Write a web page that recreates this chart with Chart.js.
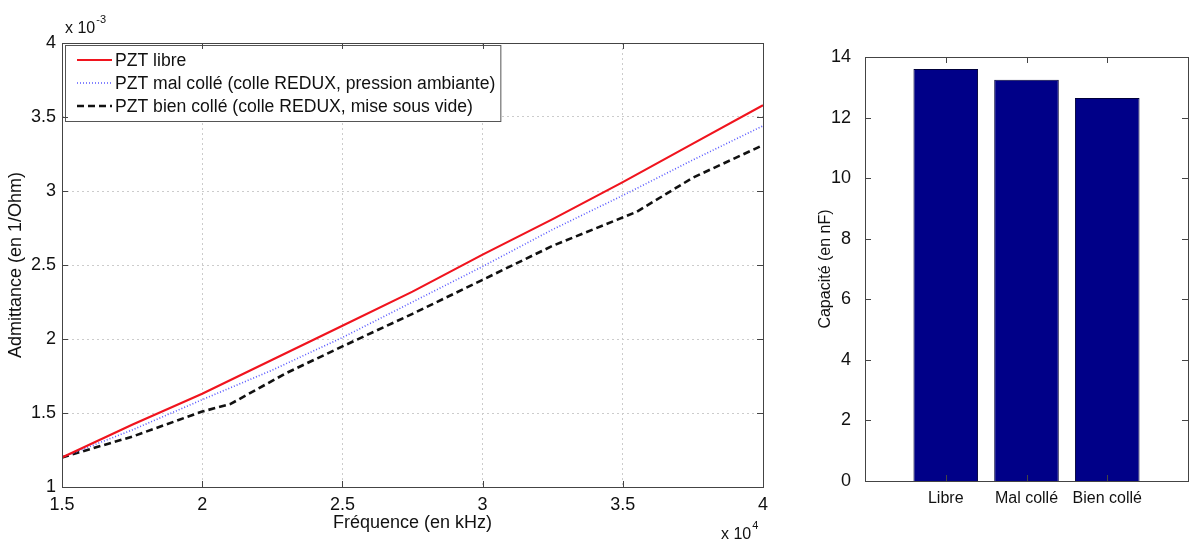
<!DOCTYPE html>
<html>
<head>
<meta charset="utf-8">
<script src="https://cdn.jsdelivr.net/npm/chart.js@4.4.0/dist/chart.umd.min.js"></script>
<style>
  html, body { margin: 0; padding: 0; background: #fff; }
  #left { position: absolute; left: 0; top: 0; }
  #right { position: absolute; left: 790px; top: 0; }
</style>
</head>
<body>
<canvas id="left" width="790" height="542"></canvas>
<canvas id="right" width="399" height="542"></canvas>
<script>
'use strict';

// admittance curves, values in 1e-3 (1/Ohm)
const freqs = [15000, 17500, 20000, 22500, 25000, 27500, 30000, 32500, 35000, 37500, 40000];
const libre = [1.20, 1.42, 1.63, 1.86, 2.09, 2.32, 2.57, 2.81, 3.06, 3.32, 3.58];
const malColle = [1.20, 1.385, 1.59, 1.79, 2.01, 2.25, 2.49, 2.74, 2.97, 3.21, 3.44];
const bienFreqs = [15000, 17500, 20000, 21000, 23000, 25000, 27500, 30000, 32500, 35500, 37500, 40000];
const bienColle = [1.20, 1.34, 1.51, 1.56, 1.77, 1.95, 2.17, 2.40, 2.63, 2.86, 3.09, 3.31];

const seriesLabels = [
  'PZT libre',
  'PZT mal collé (colle REDUX, pression ambiante)',
  'PZT bien collé (colle REDUX, mise sous vide)'
];

// capacitance bars
const barLabels = ['Libre', 'Mal collé', 'Bien collé'];
const capacite = [13.6, 13.25, 12.65];

const FONT = 'Liberation Sans, Arial, sans-serif';
const TXT = '#111';

function pts(xs, ys) {
  return xs.map((x, i) => ({ x: x, y: ys[i] }));
}

// matlab-like frame with inward ticks
const matlabBox = {
  id: 'matlabBox',
  afterDraw(chart) {
    const { ctx, chartArea: a, scales } = chart;
    const len = 6;
    ctx.save();
    ctx.strokeStyle = '#444';
    ctx.lineWidth = 1;
    ctx.strokeRect(a.left + 0.5, a.top + 0.5, a.right - a.left, a.bottom - a.top);
    ctx.beginPath();
    scales.x.ticks.forEach(t => {
      const px = Math.round(scales.x.getPixelForValue(t.value)) + 0.5;
      ctx.moveTo(px, a.bottom); ctx.lineTo(px, a.bottom - len);
      ctx.moveTo(px, a.top); ctx.lineTo(px, a.top + len);
    });
    scales.y.ticks.forEach(t => {
      const py = Math.round(scales.y.getPixelForValue(t.value)) + 0.5;
      ctx.moveTo(a.left, py); ctx.lineTo(a.left + len, py);
      ctx.moveTo(a.right, py); ctx.lineTo(a.right - len, py);
    });
    ctx.stroke();
    ctx.restore();
  }
};

// "x 10^n" labels
const exponents = {
  id: 'exponents',
  afterDraw(chart, args, opts) {
    const ctx = chart.ctx;
    ctx.save();
    ctx.fillStyle = TXT;
    ctx.textBaseline = 'alphabetic';
    (opts.items || []).forEach(it => {
      ctx.font = '16px ' + FONT;
      ctx.fillText('x 10', it.x, it.y);
      const w = ctx.measureText('x 10').width;
      ctx.font = '11px ' + FONT;
      ctx.fillText(it.sup, it.x + w + 1, it.y - 10);
    });
    ctx.restore();
  }
};

// legend box in the upper left corner, like matlab
const boxLegend = {
  id: 'boxLegend',
  afterDatasetsDraw(chart) {
    const ctx = chart.ctx;
    const a = chart.chartArea;
    const x0 = a.left + 3, y0 = a.top + 2;
    const rowH = 23;
    ctx.save();
    ctx.font = '17.6px ' + FONT;
    let maxW = 0;
    chart.data.datasets.forEach(d => { maxW = Math.max(maxW, ctx.measureText(d.label).width); });
    const w = 52 + maxW + 3;
    const h = rowH * chart.data.datasets.length + 7;
    ctx.fillStyle = '#fff';
    ctx.fillRect(x0, y0, w, h);
    ctx.strokeStyle = '#555';
    ctx.lineWidth = 1;
    ctx.strokeRect(x0 + 0.5, y0 + 0.5, w, h);
    chart.data.datasets.forEach((d, i) => {
      const cy = y0 + 15 + i * rowH;
      ctx.beginPath();
      ctx.strokeStyle = d.borderColor;
      ctx.lineWidth = d.borderWidth;
      ctx.setLineDash(d.borderDash || []);
      ctx.moveTo(x0 + 12, cy);
      ctx.lineTo(x0 + 47, cy);
      ctx.stroke();
      ctx.setLineDash([]);
      ctx.fillStyle = TXT;
      ctx.textBaseline = 'middle';
      ctx.fillText(d.label, x0 + 50, cy + 1);
    });
    ctx.restore();
  }
};

new Chart(document.getElementById('left'), {
  type: 'line',
  data: {
    datasets: [{
      label: seriesLabels[0],
      data: pts(freqs, libre),
      borderColor: '#f0141e',
      borderWidth: 2.2,
      pointRadius: 0,
      tension: 0
    }, {
      label: seriesLabels[1],
      data: pts(freqs, malColle),
      borderColor: '#5a5aff',
      borderWidth: 1.6,
      borderDash: [1, 2],
      pointRadius: 0,
      tension: 0
    }, {
      label: seriesLabels[2],
      data: pts(bienFreqs, bienColle),
      borderColor: '#111',
      borderWidth: 2.6,
      borderDash: [7, 4],
      pointRadius: 0,
      tension: 0
    }]
  },
  options: {
    responsive: false,
    animation: false,
    layout: { padding: { left: 0, top: 43, right: 27, bottom: 0 } },
    plugins: {
      legend: { display: false },
      tooltip: { enabled: false },
      exponents: { items: [{ x: 65, y: 33, sup: '-3' }, { x: 721, y: 539, sup: '4' }] }
    },
    scales: {
      x: {
        type: 'linear',
        min: 15000,
        max: 40000,
        afterFit(s) { s.height = 55; },
        ticks: {
          stepSize: 5000,
          padding: 7,
          maxRotation: 0,
          color: TXT,
          font: { family: FONT, size: 18 },
          callback: v => String(v / 1e4)
        },
        grid: { color: '#cccccc', drawTicks: false },
        border: { display: false, dash: [2, 3] },
        title: {
          display: true,
          text: 'Fréquence (en kHz)',
          color: TXT,
          font: { family: FONT, size: 18 },
          padding: { top: 0, bottom: 8 }
        }
      },
      y: {
        min: 1,
        max: 4,
        afterFit(s) { s.width = 62; },
        ticks: {
          stepSize: 0.5,
          padding: 6,
          color: TXT,
          font: { family: FONT, size: 18 },
          callback: v => String(v)
        },
        grid: { color: '#cccccc', drawTicks: false },
        border: { display: false, dash: [2, 3] },
        title: {
          display: true,
          text: 'Admittance (en 1/Ohm)',
          color: TXT,
          font: { family: FONT, size: 18 },
          padding: { top: 5, bottom: 0 }
        }
      }
    }
  },
  plugins: [matlabBox, boxLegend, exponents]
});

new Chart(document.getElementById('right'), {
  type: 'bar',
  data: {
    datasets: [{
      label: 'Capacité',
      data: capacite.map((v, i) => ({ x: i + 1, y: v })),
      backgroundColor: '#000088',
      borderColor: '#00003a',
      borderWidth: 1,
      barPercentage: 0.8,
      categoryPercentage: 1
    }]
  },
  options: {
    responsive: false,
    animation: false,
    layout: { padding: { left: 0, top: 57, right: 1, bottom: 0 } },
    plugins: { legend: { display: false }, tooltip: { enabled: false } },
    scales: {
      x: {
        type: 'linear',
        min: 0,
        max: 4,
        offset: false,
        afterFit(s) { s.height = 61; },
        afterBuildTicks(s) { s.ticks = s.ticks.filter(t => t.value >= 1 && t.value <= 3); },
        ticks: {
          stepSize: 1,
          padding: 0,
          maxRotation: 0,
          autoSkip: false,
          color: TXT,
          font: { family: FONT, size: 16 },
          callback: v => barLabels[v - 1] || ''
        },
        grid: { display: false, offset: false },
        border: { display: false }
      },
      y: {
        min: 0,
        max: 14,
        afterFit(s) { s.width = 75; },
        ticks: {
          stepSize: 2,
          padding: 6,
          color: TXT,
          font: { family: FONT, size: 18 },
          callback: v => String(v)
        },
        grid: { display: false },
        border: { display: false },
        title: {
          display: true,
          text: 'Capacité (en nF)',
          color: TXT,
          font: { family: FONT, size: 16 },
          padding: { top: 26, bottom: 0 }
        }
      }
    }
  },
  plugins: [matlabBox]
});
</script>
</body>
</html>
